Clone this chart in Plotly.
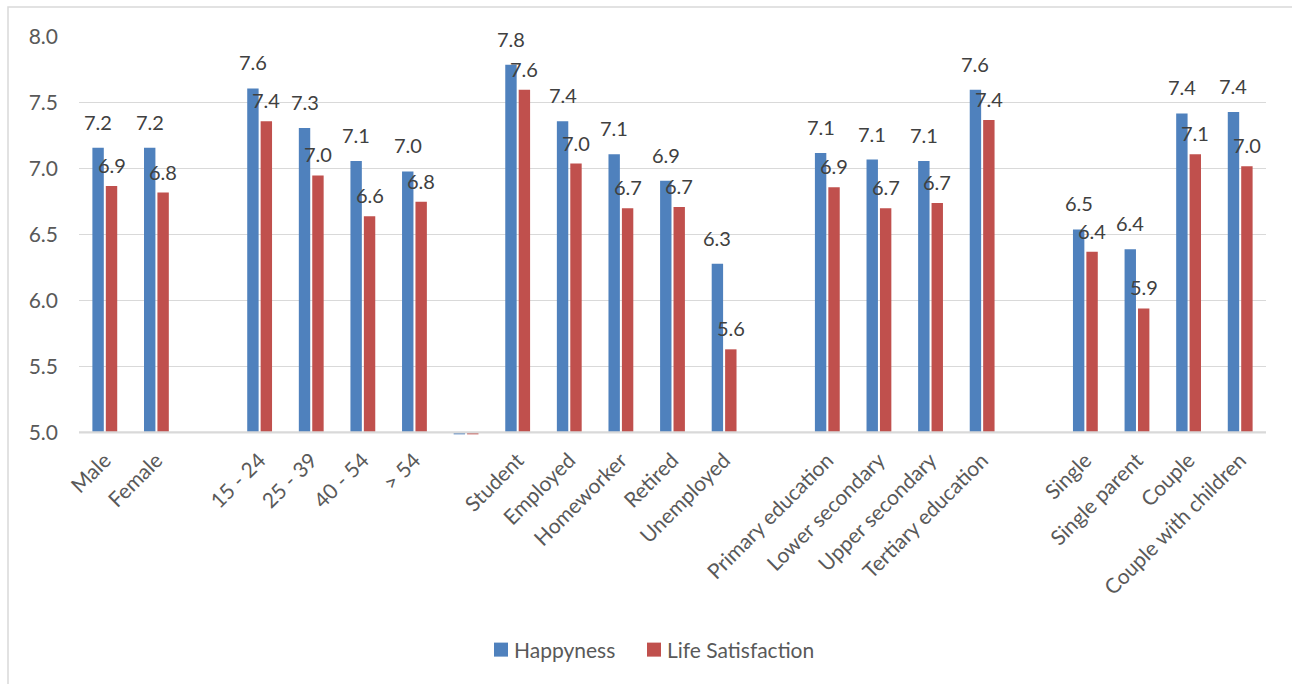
import plotly.graph_objects as go

# Survey averages by population group (empty strings separate the groups)
categories = [
    "Male", "Female", "",
    "15 - 24", "25 - 39", "40 - 54", "> 54", "",
    "Student", "Employed", "Homeworker", "Retired", "Unemployed", "",
    "Primary education", "Lower secondary", "Upper secondary", "Tertiary education", "",
    "Single", "Single parent", "Couple", "Couple with children",
]
happyness = [
    7.16, 7.16, None,
    7.61, 7.31, 7.06, 6.98, 4.985,
    7.79, 7.36, 7.11, 6.91, 6.28, None,
    7.12, 7.07, 7.06, 7.60, None,
    6.54, 6.39, 7.42, 7.43,
]
life_satisfaction = [
    6.87, 6.82, None,
    7.36, 6.95, 6.64, 6.75, 4.985,
    7.60, 7.04, 6.70, 6.71, 5.63, None,
    6.86, 6.70, 6.74, 7.37, None,
    6.37, 5.94, 7.11, 7.02,
]
y_ticks = [5.0, 5.5, 6.0, 6.5, 7.0, 7.5, 8.0]
series_names = ["Happyness", "Life Satisfaction"]

AXIS_MIN = 5.0
BLUE = "#4F81BD"
RED = "#C0504D"
GRID = "#D9D9D9"
TEXT = "#595959"
LABEL = "#404040"
FONT = "Lato, 'Liberation Sans', sans-serif"

W, H = 1292, 684
ML, MR, MT = 79, 26, 37
PLOT_BOTTOM = 434.6
MB = H - PLOT_BOTTOM
PLOT_W = W - ML - MR
PLOT_H = PLOT_BOTTOM - MT

BARGAP = 0.48
half_slot = (1 - BARGAP) / 4

x_pos = list(range(len(categories)))
tick_idx = [i for i, c in enumerate(categories) if c]


def px_x(p):
    return (p - ML) / PLOT_W


def px_y(p):
    return (PLOT_BOTTOM - p) / PLOT_H


def heights(values):
    return [None if v is None else v - AXIS_MIN for v in values]


fig = go.Figure()
colors = [BLUE, RED]
for name, values, color in zip(series_names, [happyness, life_satisfaction], colors):
    fig.add_trace(go.Bar(
        name=name, x=x_pos, y=heights(values), base=AXIS_MIN,
        marker=dict(color=color, line=dict(width=0)),
        hoverinfo="skip", showlegend=False,
    ))

annotations = []
for values, dx, dy in [(happyness, -half_slot, 12), (life_satisfaction, half_slot, 7)]:
    for i, v in enumerate(values):
        if v is None or v < AXIS_MIN:
            continue
        annotations.append(dict(
            x=i + dx, y=v, xref="x", yref="y", text=f"{v:.1f}",
            showarrow=False, yanchor="bottom", xanchor="center", yshift=dy,
            font=dict(family=FONT, size=20, color=LABEL),
        ))

shapes = [
    # category axis baseline
    dict(type="line", xref="paper", yref="y", x0=0, x1=1, y0=AXIS_MIN, y1=AXIS_MIN,
         line=dict(color=GRID, width=2.2), layer="above"),
    # chart frame
    dict(type="rect", xref="paper", yref="paper",
         x0=px_x(8), x1=px_x(1310), y0=px_y(7), y1=px_y(700),
         line=dict(color=GRID, width=1.5)),
]

# legend: colour square followed by series name
legend_left = [494, 647]
legend_mid = 649
for left, name, color in zip(legend_left, series_names, colors):
    shapes.append(dict(
        type="rect", xref="paper", yref="paper",
        x0=px_x(left), x1=px_x(left + 14), y0=px_y(legend_mid - 7), y1=px_y(legend_mid + 7),
        fillcolor=color, line=dict(width=0),
    ))
    annotations.append(dict(
        x=px_x(left + 18), y=px_y(legend_mid), xref="paper", yref="paper",
        text=name, showarrow=False, xanchor="left", yanchor="middle",
        font=dict(family=FONT, size=21, color=TEXT),
    ))

fig.update_layout(
    width=W, height=H,
    margin=dict(l=ML, r=MR, t=MT, b=MB, pad=0),
    paper_bgcolor="white", plot_bgcolor="white",
    barmode="group", bargap=BARGAP, bargroupgap=0.15,
    font=dict(family=FONT, color=TEXT),
    showlegend=False,
    annotations=annotations,
    shapes=shapes,
)
fig.update_xaxes(
    range=[-0.5, len(categories) - 0.5],
    tickmode="array", tickvals=tick_idx, ticktext=[categories[i] for i in tick_idx],
    tickangle=-45, tickfont=dict(family=FONT, size=21, color=TEXT),
    showgrid=False, zeroline=False, showline=False, ticks="",
    ticklabelstandoff=8,
)
fig.update_yaxes(
    range=[4.98, 8.0],
    tickmode="array", tickvals=y_ticks, ticktext=[f"{t:.1f}" for t in y_ticks],
    tickfont=dict(family=FONT, size=21, color=TEXT),
    showgrid=True, gridcolor=GRID, gridwidth=1.3,
    zeroline=False, showline=False, ticks="",
    ticklabelstandoff=20,
)

fig.write_html("out.html")
